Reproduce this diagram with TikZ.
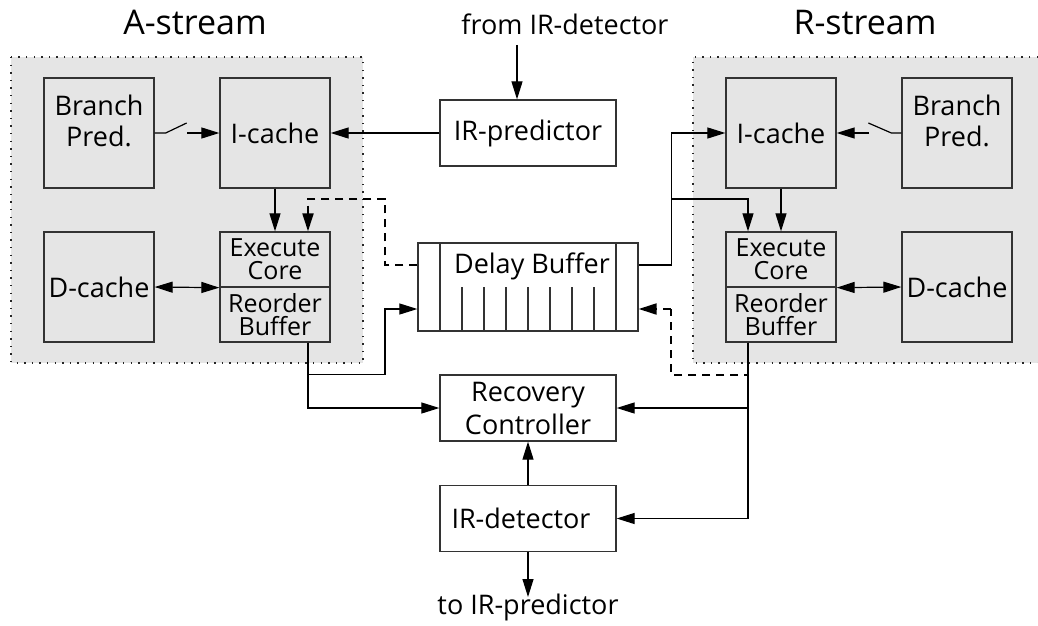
\documentclass[tikz,border=0pt]{standalone}
\usepackage{fontspec}
\setmainfont{Open Sans}
\usetikzlibrary{arrows.meta}
\newcommand\lblfont{\fontsize{27}{27}\selectfont}
\newcommand\stackfont{\fontsize{25}{23}\selectfont}
\newcommand\ttlfont{\fontsize{34}{36}\selectfont}
\begin{document}
\begin{tikzpicture}[x=1pt,y=-1pt,
  unit/.style={draw=black!80, line width=1.3pt, inner sep=0pt,
    minimum width=110pt, minimum height=110pt, font=\lblfont, align=center},
  half/.style={unit, minimum height=55pt, font=\stackfont},
  wide/.style={unit, minimum width=176pt, minimum height=66pt},
  txt/.style={font=\lblfont, inner sep=0pt, align=center},
  stream/.style={fill=black!10, draw=none},
  dotborder/.style={line width=1.4pt, dash pattern=on 1.4pt off 6.2pt, black!85},
  wire/.style={line width=1.2pt},
  arr/.style={wire, -{Triangle[length=18pt,width=11pt]}},
  dblarr/.style={wire, {Triangle[length=18pt,width=11pt]}-{Triangle[length=18pt,width=11pt]}},
  dasharr/.style={arr, line width=2pt, dash pattern=on 8pt off 6pt},
  dashline/.style={line width=2pt, dash pattern=on 8pt off 6pt}]
\useasboundingbox (0,0) rectangle (1038,626);

% stream backgrounds
\fill[stream] (11,57) rectangle (363,363);
\draw[dotborder] (11,57) rectangle (363,363);
\fill[stream] (693,57) rectangle (1038,363);
\draw[dotborder] (1038,57) -- (693,57) -- (693,363) -- (1038,363);

% titles
\node[font=\ttlfont, anchor=base, inner sep=0pt] (ttlA) at (195,35) {A-stream};
\node[font=\ttlfont, anchor=base, inner sep=0pt] (ttlR) at (865,35) {R-stream};

% A-stream units
\node[unit] (bpA) at (99,133) {};
\node[txt] (bpAt) at (99,121) {Branch\\[4pt]Pred.};
\node[unit] (icA) at (275,133) {I-cache};
\node[unit] (dcA) at (99,287) {D-cache};
\node[half] (exA) at (275,259.5) {Execute\\Core};
\node[half] (roA) at (275,314.5) {Reorder\\Buffer};

% R-stream units
\node[unit] (icR) at (781,133) {I-cache};
\node[unit] (bpR) at (957,133) {};
\node[txt] (bpRt) at (957,121) {Branch\\[4pt]Pred.};
\node[half] (exR) at (781,259.5) {Execute\\Core};
\node[half] (roR) at (781,314.5) {Reorder\\Buffer};
\node[unit] (dcR) at (957,287) {D-cache};

% shared units
\node[wide] (irp) at (528,133) {IR-predictor};
\node[unit, minimum width=220pt, minimum height=88pt] (dbuf) at (528,287) {};
\node[txt] (dbuft) at (532,266) {Delay Buffer};
\foreach \x in {440,616} \draw[draw=black!80, line width=1.3pt] (\x,243) -- (\x,331);
\foreach \x in {462,484,...,594} \draw[draw=black!80, line width=1.2pt] (\x,287) -- (\x,331);
\node[wide, font=\fontsize{27}{33}\selectfont] (rec) at (528,408) {Recovery\\Controller};
\node[wide] (det) at (528,518.5) {IR-detector\hspace{14pt}};

% outside references
\node[txt, anchor=base] (fromdet) at (565,35) {from IR-detector};
\coordinate (fromdetarr) at (517,45);
\node[txt, anchor=base] (topred) at (528,614) {to IR-predictor};
\coordinate (topredarr) at (528,597);

% switches between branch predictors and I-caches
\coordinate (swA) at (187,133);
\draw[wire] (bpA.east) -- ++(11,0) -- ++(21,-10);
\draw[arr] (swA) -- (icA.west);
\coordinate (swR) at (869,133);
\draw[wire] (bpR.west) -- ++(-10,0) -- ++(-23,-10);
\draw[arr] (swR) -- (icR.east);

% A-stream connections
\draw[arr] (fromdetarr) -- (fromdetarr |- irp.north);
\draw[arr] (irp.west) -- (icA.east);
\draw[arr] (icA.south) -- (exA.north);
\draw[dblarr] (dcA.east) -- (exA.south west);
\draw[dasharr] ([yshift=22pt]dbuf.west) -| (385,199) -| ([xshift=33pt]exA.north);
\draw[arr] ([xshift=33pt]roA.south) -- ++(0,32) -| (385,309) -- ([yshift=-22pt]dbuf.west);
\draw[arr] ([xshift=33pt]roA.south) |- (rec.west);

% R-stream connections
\coordinate (jR) at (671,199);
\draw[arr] ([yshift=22pt]dbuf.east) -- ++(33,0) |- (icR.west);
\draw[arr] (jR) -| ([xshift=-33pt]exR.north);
\draw[arr] (icR.south) -- (exR.north);
\draw[dblarr] (exR.south east) -- (dcR.west);
\draw[dashline] ([xshift=-33pt]roR.south) -- ++(0,32) -| (671,309);
\draw[dasharr] (671,309) -- ([yshift=-22pt]dbuf.east);
\draw[arr] ([xshift=-33pt]roR.south) |- (rec.east);
\draw[arr] ([xshift=-33pt]roR.south) |- (det.east);

% recovery path
\draw[arr] (det.north) -- (rec.south);
\draw[arr] (det.south) -- (topredarr);
\end{tikzpicture}
\end{document}
